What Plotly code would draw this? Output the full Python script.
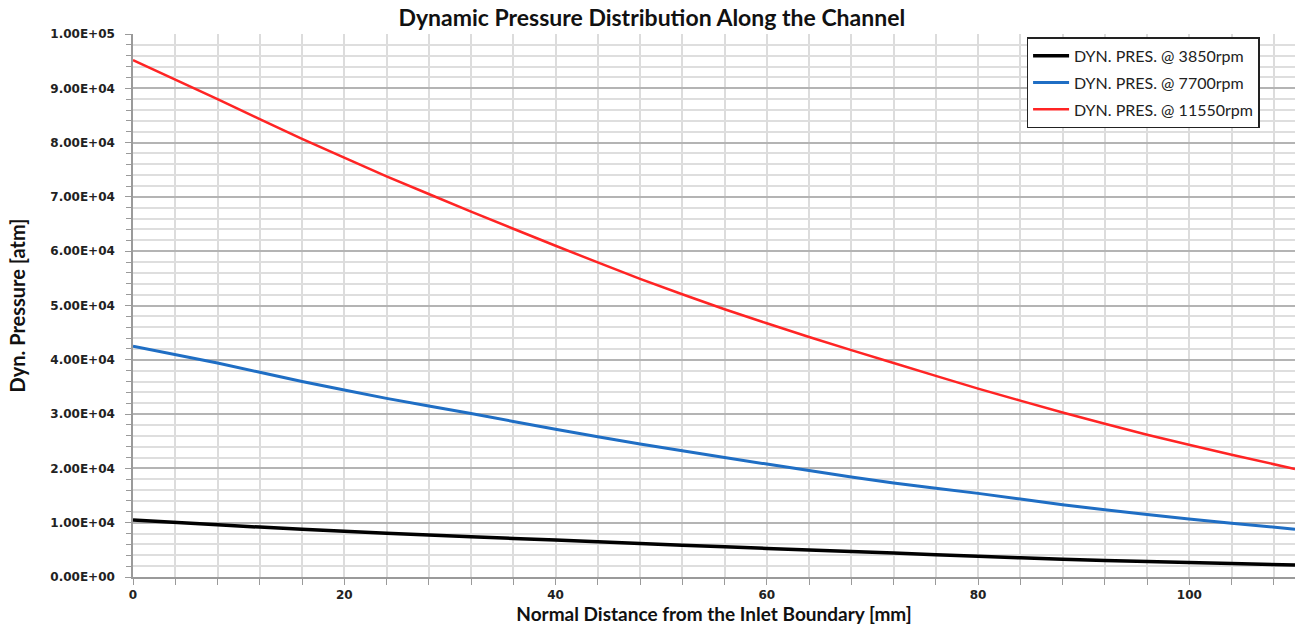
import plotly.graph_objects as go

# Data
distance_mm = [0, 8, 16, 24, 32, 40, 48, 56, 64, 72, 80, 88, 96, 104, 110]
dyn_3850 = [10500, 9600, 8800, 8050, 7400, 6800, 6150, 5550, 4980, 4400, 3800, 3280, 2840, 2500, 2200]
dyn_7700 = [42500, 39400, 36000, 32900, 30100, 27200, 24500, 22000, 19600, 17300, 15400, 13300, 11500, 9900, 8800]
dyn_11550 = [95200, 88000, 80700, 73800, 67300, 61000, 54900, 49300, 44200, 39400, 34700, 30300, 26200, 22500, 19900]

series_names = ["DYN. PRES. @ 3850rpm", "DYN. PRES. @ 7700rpm", "DYN. PRES. @ 11550rpm"]
series_colors = ["#000000", "#1f6ec4", "#ff2424"]
series_widths = [3.5, 3, 2.5]

y_tick_vals = [0, 10000, 20000, 30000, 40000, 50000, 60000, 70000, 80000, 90000, 100000]
y_tick_labels = ["0.00E+00", "1.00E+04", "2.00E+04", "3.00E+04", "4.00E+04", "5.00E+04",
                 "6.00E+04", "7.00E+04", "8.00E+04", "9.00E+04", "1.00E+05"]
x_tick_vals = [0, 20, 40, 60, 80, 100]
x_tick_labels = ["0", "20", "40", "60", "80", "100"]

fig = go.Figure()
for i, (ys, name, col, w) in enumerate(zip([dyn_3850, dyn_7700, dyn_11550], series_names, series_colors, series_widths)):
    fig.add_trace(go.Scatter(
        x=distance_mm, y=ys, mode="lines", name=name,
        line=dict(color=col, width=w, shape="spline", smoothing=0.6),
        legendgroup=f"g{i}",
    ))

fig.update_layout(
    width=1296, height=625,
    margin=dict(l=133, r=1, t=34, b=48, autoexpand=False),
    paper_bgcolor="white", plot_bgcolor="white",
    title=dict(text="Dynamic Pressure Distribution Along the Channel",
               x=0.503, xanchor="center", y=0.972, yanchor="middle",
               font=dict(family="Lato", size=23, color="#111111", weight="bold")),
    legend=dict(x=0.769, y=0.994, xanchor="left", yanchor="top",
                bgcolor="white", bordercolor="#222222", borderwidth=1.5,
                font=dict(family="Lato", size=16, color="#222222"),
                tracegroupgap=3, itemwidth=36),
    showlegend=True,
)

fig.update_xaxes(
    range=[0, 110], tickvals=x_tick_vals, ticktext=x_tick_labels,
    showline=True, linecolor="#9a9a9a", linewidth=1.5,
    ticks="outside", ticklen=6, tickcolor="#9a9a9a",
    showgrid=True, gridcolor="#dcdcdc", gridwidth=1.5,
    zeroline=False, automargin=False,
    tickfont=dict(family="DejaVu Sans", size=12, color="#222222", weight="bold"),
    title=dict(text="Normal Distance from the Inlet Boundary [mm]",
               font=dict(family="Lato", size=19, color="#111111", weight="bold"), standoff=2),
    minor=dict(dtick=4, tick0=0, ticks="outside", ticklen=6, tickcolor="#9a9a9a",
               showgrid=True, gridcolor="#dcdcdc", gridwidth=1.5),
)
fig.update_yaxes(
    range=[0, 100000], tickvals=y_tick_vals, ticktext=y_tick_labels,
    showline=True, linecolor="#9a9a9a", linewidth=1.5,
    ticks="outside", ticklen=6, tickcolor="#9a9a9a", ticklabelstandoff=8,
    showgrid=True, gridcolor="#b4b4b4", gridwidth=1.5,
    zeroline=False, automargin=False,
    tickfont=dict(family="DejaVu Sans", size=12, color="#222222", weight="bold"),
    title=dict(text="Dyn. Pressure [atm]",
               font=dict(family="Lato", size=20, color="#111111", weight="bold"), standoff=19),
    minor=dict(dtick=2000, tick0=0, ticks="outside", ticklen=5, tickcolor="#9a9a9a",
               showgrid=True, gridcolor="#dedede", gridwidth=1.5),
)

fig.write_html("out.html", config={"displayModeBar": False},
               post_script="document.body.style.margin='0px';document.body.style.overflow='hidden';")
